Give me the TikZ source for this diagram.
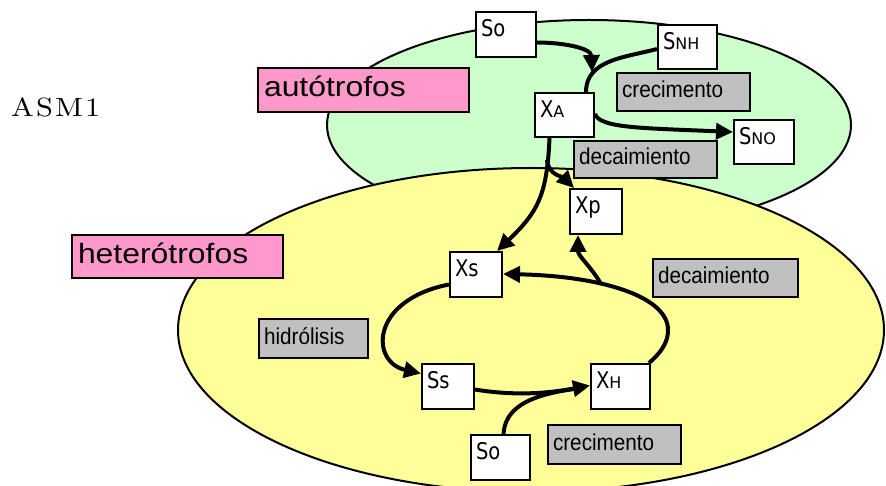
\documentclass[tikz,border=0pt]{standalone}
\usepackage{fontspec}
\usetikzlibrary{arrows.meta,calc}
\newfontfamily\tagfont[FakeStretch=0.9]{Liberation Sans}
\newfontfamily\pinkfont[FakeStretch=1.14]{Liberation Sans}
\newfontfamily\varfont[FakeStretch=0.85]{DejaVu Sans}
\newfontfamily\smlfont{DejaVu Sans}
\newfontfamily\asmfont[FakeStretch=1.15, LetterSpace=8]{lmroman10-regular.otf}
\definecolor{autofill}{HTML}{CCFFCC}
\definecolor{heterofill}{HTML}{FFFF99}
\definecolor{pinkfill}{HTML}{FF99CC}
\definecolor{tagfill}{HTML}{C0C0C0}
% smaller capitals used as index letters
\newcommand{\sml}[1]{{\smlfont\fontsize{16pt}{16pt}\selectfont #1}}
% variable box: width, height, content set at the upper left
\newcommand{\vartext}[3]{\vbox to #2pt{\vskip 7.5pt\hbox to #1pt{\hskip 5pt\varfont\fontsize{23pt}{23pt}\selectfont #3\hfil}\vfil}}
\tikzset{
  varbox/.style={draw, fill=white, line width=2pt, inner sep=0pt, anchor=north west},
  tagbox/.style={draw, fill=tagfill, line width=2pt, anchor=north west, inner xsep=5pt,
    inner ysep=0pt, align=left, font=\tagfont\fontsize{23pt}{23pt}\selectfont,
    text height=17pt, text depth=6pt},
  groupbox/.style={draw, fill=pinkfill, line width=2pt, anchor=north west, inner xsep=6pt,
    inner ysep=0pt, align=left, font=\pinkfont\fontsize{28pt}{28pt}\selectfont,
    text height=21pt, text depth=7pt},
  flow/.style={line width=4pt, -{Triangle[length=17pt,width=16pt]}},
  link/.style={line width=4pt},
  zone/.style={line width=2pt},
}
\begin{document}
\begin{tikzpicture}[x=1pt,y=-1pt]
\useasboundingbox (0,0) rectangle (886,486);

% populations
\draw[zone, fill=autofill] (589,125) ellipse [x radius=262pt, y radius=105pt];
\draw[zone, fill=heterofill] (531,330) ellipse [x radius=353pt, y radius=162pt];

\node[anchor=base west, inner sep=0pt] (title) at (11,116.5)
  {\asmfont\fontsize{26.4pt}{26.4pt}\selectfont ASM1};

\node[groupbox, text width=199pt, minimum height=44pt] (auto) at (257,67) {autótrofos};
\node[groupbox, text width=199pt, minimum height=43pt] (het) at (71,234) {heterótrofos};

% process labels
\node[tagbox, text width=123pt, minimum height=38pt] (crecA) at (616,72) {crecimento};
\node[tagbox, text width=133pt, minimum height=37pt] (decA) at (573,140) {decaimiento};
\node[tagbox, text width=135pt, minimum height=38pt] (decH) at (652,258) {decaimiento};
\node[tagbox, text width=99pt, minimum height=39pt] (hidr) at (258,318) {hidrólisis};
\node[tagbox, text width=123pt, minimum height=39pt] (crecH) at (547,424) {crecimento};

% state variables
\node[varbox] (so1) at (475,11) {\vartext{60}{45}{So}};
\node[varbox] (snh) at (657,24) {\vartext{59}{44}{S\sml{NH}}};
\node[varbox] (xa) at (534,92) {\vartext{59}{44}{X\sml{A}}};
\node[varbox] (sno) at (733,119) {\vartext{60}{44}{S\sml{NO}}};
\node[varbox] (xp) at (569,188) {\vartext{52}{45}{Xp}};
\node[varbox] (xs) at (449,251) {\vartext{52}{45}{Xs}};
\node[varbox] (ss) at (421,363) {\vartext{52}{45}{Ss}};
\node[varbox] (xh) at (590,363) {\vartext{59}{45}{X\sml{H}}};
\node[varbox] (so2) at (470,434) {\vartext{59}{45}{So}};

% autotrophic growth and decay
\coordinate (merge) at (592,72);
\draw[link] ([yshift=-2pt]snh.west) to[out=195,in=90] ([xshift=21.5pt]xa.north);
\draw[flow] ([yshift=-8pt]so1.east) to[out=0,in=92] (merge);
\draw[flow] ([yshift=1pt]xa.east) .. controls (600,128) and (640,128) .. ([yshift=10pt]sno.west);
\draw[flow] ([xshift=-15pt]xa.south) .. controls (547,195) and (538,212) .. ([xshift=-6pt]xs.north east);
\coordinate (fork1) at (547,160);
\draw[flow] (fork1) to[out=-85,in=135] ([xshift=5pt]xp.north west);

% heterotrophic cycle
\draw[flow] ([yshift=-10pt]xs.west) .. controls (370,300) and (370,362) .. ([yshift=13pt]ss.west);
\draw[flow] ([yshift=-3pt]ss.east) .. controls (520,397) and (555,392) .. ([yshift=1pt]xh.west);
\draw[link] ([xshift=3pt]so2.north) .. controls (505,410) and (525,395) .. ([xshift=-12pt,yshift=-2pt]xh.west);
\coordinate (loopR) at (668,330);
\draw[flow] ([xshift=-2pt]xh.north east) .. controls (664,350) and (668,340) .. (loopR)
  .. controls (668,296) and (600,276) .. ([yshift=0.5pt]xs.east);
\coordinate (fork2) at (601,284);
\draw[flow] (fork2) to[out=120,in=-90] ([xshift=-18pt]xp.south);
\end{tikzpicture}
\end{document}
